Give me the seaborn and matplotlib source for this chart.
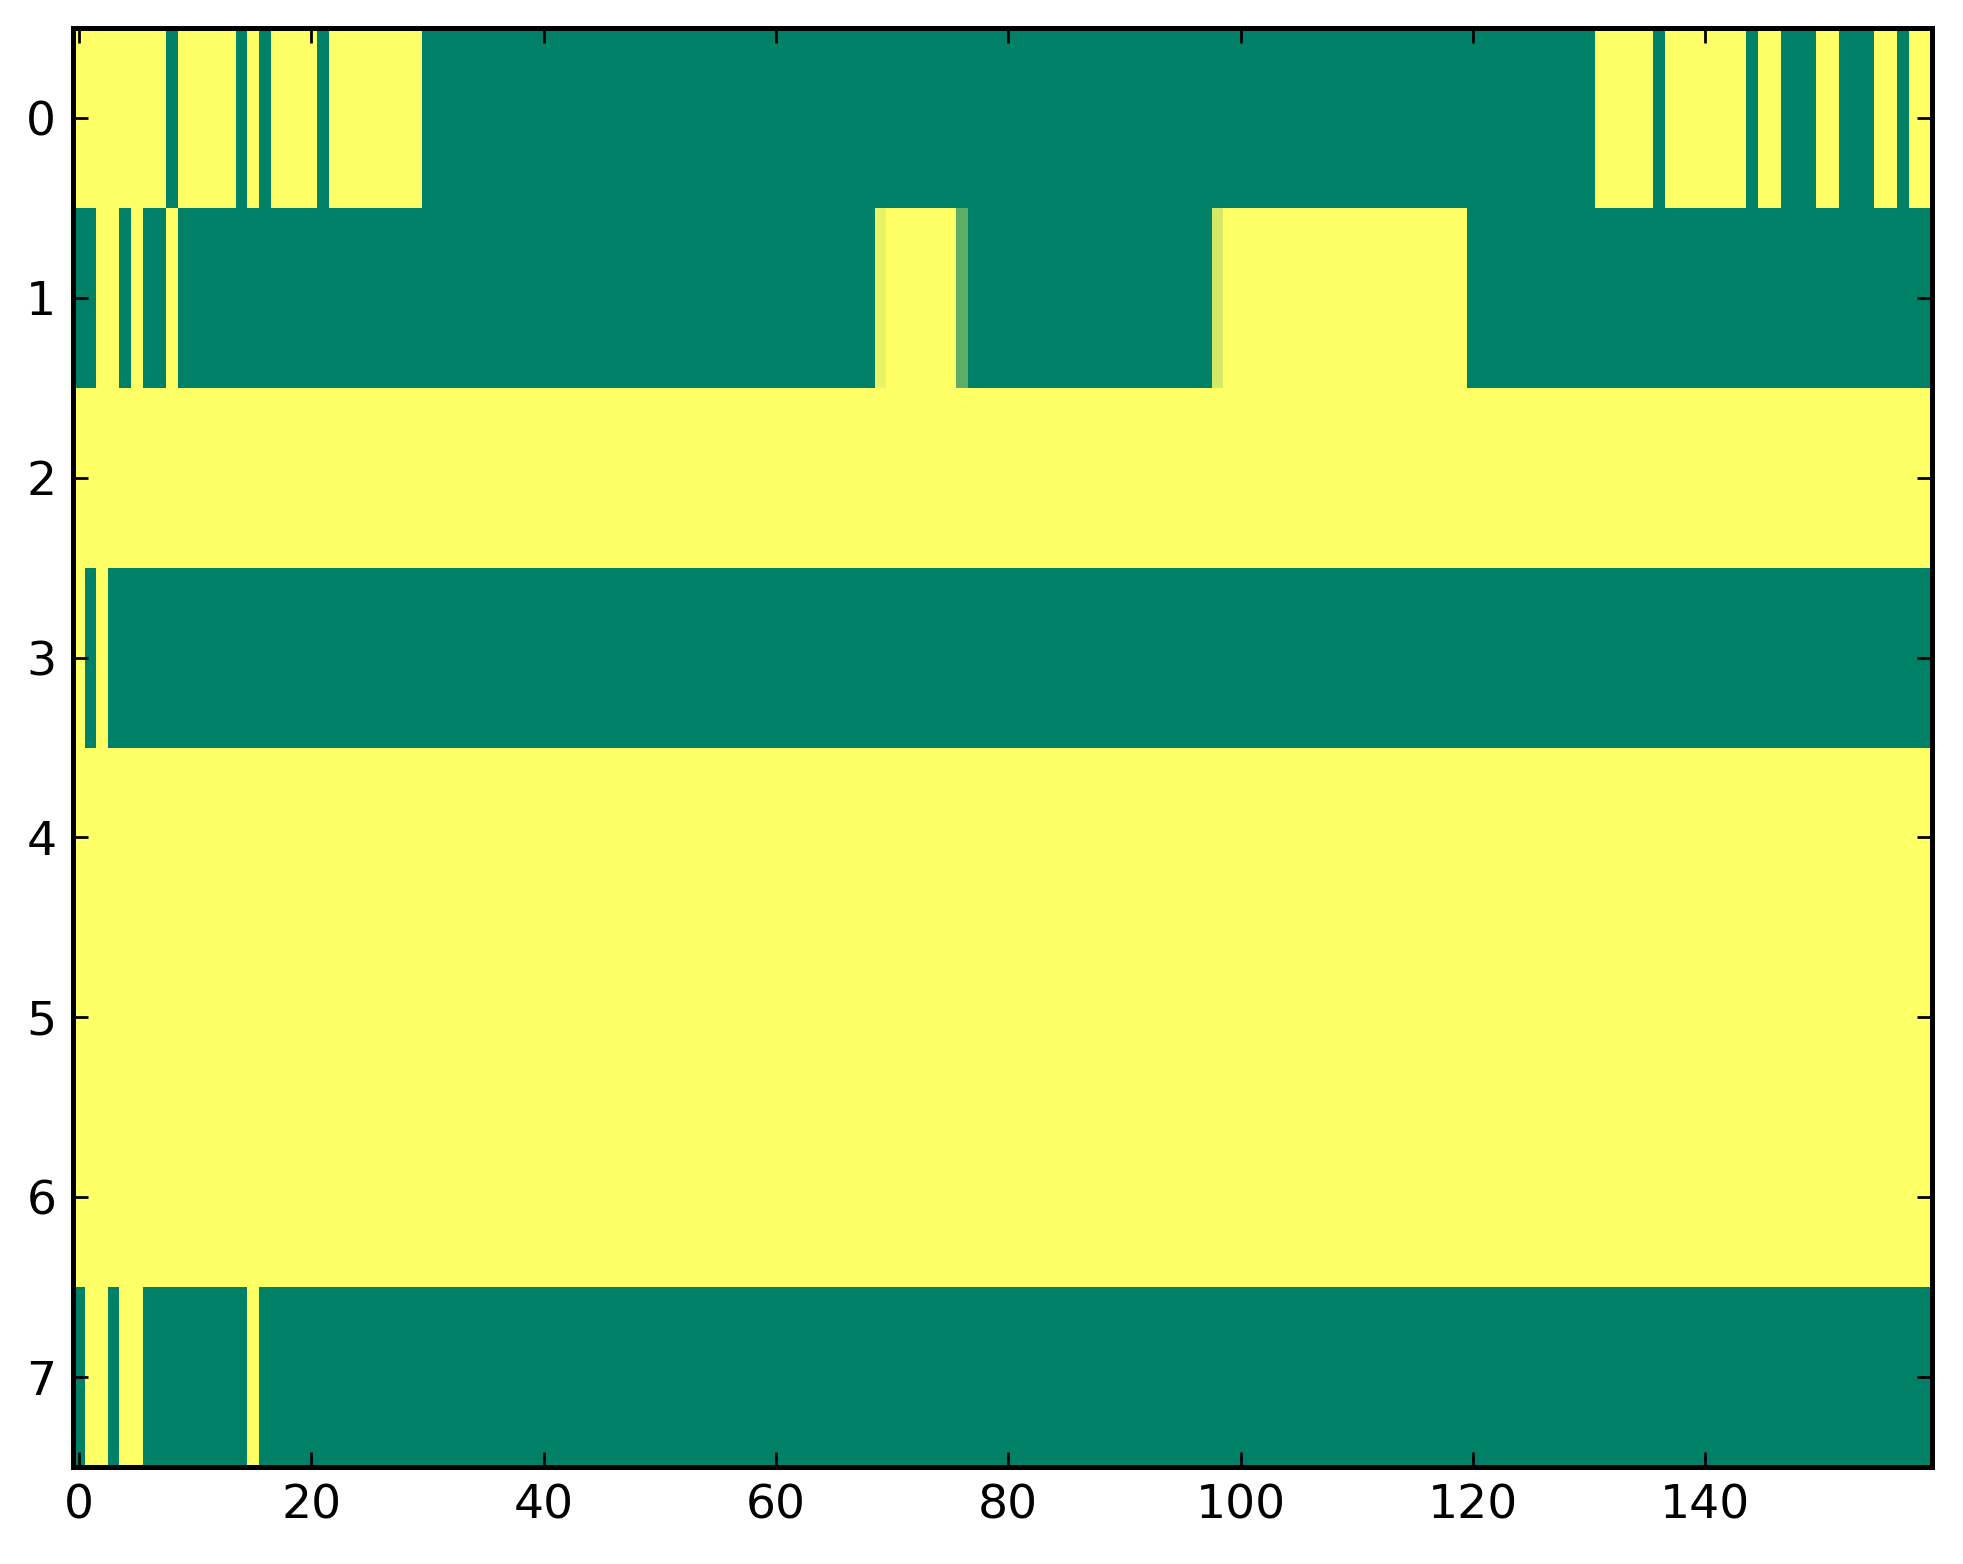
import numpy as np
import pandas as pd
import matplotlib
matplotlib.use("Agg")
import matplotlib.pyplot as plt
import seaborn as sns

# Each row is given as (value, run length) pairs, left to right
row0 = [(1, 8), (0, 1), (1, 5), (0, 1), (1, 1), (0, 1), (1, 4), (0, 1), (1, 8), (0, 101),
        (1, 5), (0, 1), (1, 7), (0, 1), (1, 2), (0, 3), (1, 2), (0, 3), (1, 2), (0, 1), (1, 2)]
row1 = [(0, 2), (1, 2), (0, 1), (1, 1), (0, 2), (1, 1), (0, 60), (0.91, 1), (1, 6), (0.37, 1),
        (0, 21), (0.83, 1), (1, 21), (0, 40)]
row2 = [(1, 160)]
row3 = [(1, 1), (0, 1), (1, 1), (0, 157)]
row4 = [(1, 160)]
row5 = [(1, 160)]
row6 = [(1, 160)]
row7 = [(0, 1), (1, 2), (0, 1), (1, 2), (0, 9), (1, 1), (0, 144)]

rows = [row0, row1, row2, row3, row4, row5, row6, row7]
x_ticks = [0, 20, 40, 60, 80, 100, 120, 140]
y_ticks = [0, 1, 2, 3, 4, 5, 6, 7]


def expand(runs):
    out = []
    for v, n in runs:
        out.extend([v] * n)
    return out


matrix = pd.DataFrame([expand(r) for r in rows])

sns.set_style("white")
plt.rcParams["font.family"] = ["DejaVu Sans"]

fig = plt.figure(figsize=(1963 / 200, 1564 / 200), dpi=200)
ax = fig.add_axes([73 / 1963, 1 - 1467 / 1564, (1932 - 73) / 1963, (1467 - 28) / 1564])

sns.heatmap(matrix, cmap="summer", vmin=0, vmax=1, cbar=False, ax=ax,
            xticklabels=False, yticklabels=False)

ax.set_axisbelow(False)
ax.set_xticks([t + 0.5 for t in x_ticks])
ax.set_xticklabels([str(t) for t in x_ticks])
ax.set_yticks([t + 0.5 for t in y_ticks])
ax.set_yticklabels([str(t) for t in y_ticks], rotation=0)
ax.set_xlabel("")
ax.set_ylabel("")

for s in ax.spines.values():
    s.set_visible(True)
    s.set_color("black")
    s.set_linewidth(1.8)
    s.set_zorder(5)

ax.tick_params(axis="both", which="major", direction="in", length=5.5, width=1.0,
               color="black", labelsize=17, labelcolor="black", pad=6,
               top=True, right=True, bottom=True, left=True)

fig.savefig("out.png", dpi=200, facecolor="white")
